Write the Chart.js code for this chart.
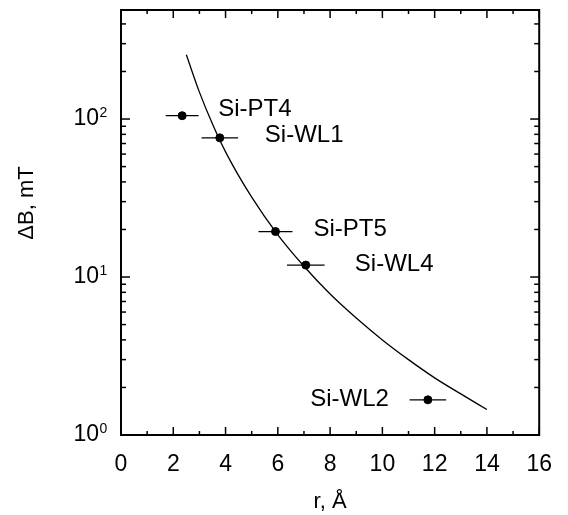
<!DOCTYPE html>
<html>
<head>
<meta charset="utf-8">
<script src="https://cdn.jsdelivr.net/npm/chart.js@4"></script>
<style>
  html, body { margin: 0; padding: 0; background: #fff; }
  canvas { display: block; }
</style>
</head>
<body>
<canvas id="chart" width="568" height="515"></canvas>
<script>
// ---- data ----
const sampleNames = ["Si-PT4", "Si-WL1", "Si-PT5", "Si-WL4", "Si-WL2"];
const rValues = [2.34, 3.78, 5.91, 7.07, 11.74];      // r, Å
const rErrors = [0.63, 0.70, 0.65, 0.72, 0.70];       // ± r
const dBValues = [105, 76, 19.4, 11.9, 1.67];         // ΔB, mT

// fitted curve
const fitR = [2.5, 3, 3.5, 4, 5, 6, 7, 8, 9, 10, 11, 12, 13, 14];
const fitDB = [255, 148, 93, 62, 32, 18.5, 11.7, 7.8, 5.5, 4.0, 3.0, 2.3, 1.82, 1.45];

// axis ticks
const xTickStep = 2;
const yMajorTicks = [1, 10, 100];
const yAllTicks = [1, 2, 3, 4, 5, 6, 7, 8, 9,
                   10, 20, 30, 40, 50, 60, 70, 80, 90,
                   100, 200, 300, 400];

// label placement (pixels, relative to each point)
const labelDx = [36, 45, 38, 49, -39];
const labelDy = [-6, -2, -2, -1, 0];

const FONT = "'Liberation Sans', Arial, sans-serif";

// =======================
// plugins
// =======================

const errorBars = {
  id: "errorBars",
  afterDatasetsDraw(chart) {
    const { ctx, scales: { x, y } } = chart;
    ctx.save();
    ctx.strokeStyle = "#000";
    ctx.lineWidth = 1.3;
    rValues.forEach((r, i) => {
      const py = y.getPixelForValue(dBValues[i]);
      ctx.beginPath();
      ctx.moveTo(x.getPixelForValue(r - rErrors[i]), py);
      ctx.lineTo(x.getPixelForValue(r + rErrors[i]), py);
      ctx.stroke();
    });
    ctx.restore();
  }
};

const frameAndTicks = {
  id: "frameAndTicks",
  afterDraw(chart) {
    const { ctx, chartArea: a, scales: { x, y } } = chart;
    ctx.save();
    ctx.strokeStyle = "#000";
    ctx.lineWidth = 1.5;

    const seg = (x0, y0, x1, y1) => {
      ctx.beginPath();
      ctx.moveTo(x0, y0);
      ctx.lineTo(x1, y1);
      ctx.stroke();
    };

    // x ticks, inward, bottom and top
    for (let v = x.min; v <= x.max; v++) {
      const px = x.getPixelForValue(v);
      const len = v % xTickStep === 0 ? 8 : 4;
      seg(px, a.bottom, px, a.bottom - len);
      seg(px, a.top, px, a.top + len);
    }

    // y ticks, inward, left and right
    y.ticks.forEach(t => {
      const py = y.getPixelForValue(t.value);
      const len = yMajorTicks.includes(t.value) ? 9 : 5;
      seg(a.left, py, a.left + len, py);
      seg(a.right, py, a.right - len, py);
    });

    // frame
    ctx.lineWidth = 2;
    ctx.strokeRect(a.left, a.top, a.right - a.left, a.bottom - a.top);

    // y tick labels 10^n
    ctx.fillStyle = "#000";
    yMajorTicks.forEach(v => {
      const py = y.getPixelForValue(v);
      const exp = String(Math.round(Math.log10(v)));
      ctx.font = "23px " + FONT;
      ctx.textAlign = "right";
      ctx.textBaseline = "middle";
      ctx.fillText("10", 99, py);
      ctx.font = "14px " + FONT;
      ctx.textAlign = "left";
      ctx.textBaseline = "alphabetic";
      ctx.fillText(exp, 99.5, py - 2);
    });

    // y axis title
    ctx.save();
    ctx.translate(27, 203);
    ctx.rotate(-Math.PI / 2);
    ctx.font = "22px " + FONT;
    ctx.textAlign = "center";
    ctx.textBaseline = "middle";
    ctx.fillText("ΔB, mT", 0, 0);
    ctx.restore();

    // sample labels
    ctx.font = "24px " + FONT;
    ctx.textBaseline = "middle";
    sampleNames.forEach((name, i) => {
      const px = x.getPixelForValue(rValues[i]) + labelDx[i];
      const py = y.getPixelForValue(dBValues[i]) + labelDy[i];
      ctx.textAlign = labelDx[i] < 0 ? "right" : "left";
      ctx.fillText(name, px, py);
    });

    ctx.restore();
  }
};

// =======================
// chart
// =======================

new Chart(document.getElementById("chart"), {
  type: "scatter",
  data: {
    datasets: [
      {
        label: "fit",
        data: fitR.map((r, i) => ({ x: r, y: fitDB[i] })),
        showLine: true,
        pointRadius: 0,
        borderColor: "#000",
        borderWidth: 1.3,
        cubicInterpolationMode: "monotone"
      },
      {
        label: "samples",
        data: rValues.map((r, i) => ({ x: r, y: dBValues[i] })),
        pointRadius: 4,
        backgroundColor: "#000",
        borderColor: "#000"
      }
    ]
  },
  options: {
    responsive: false,
    animation: false,
    events: [],
    layout: { padding: { top: 10, right: 23, left: 0, bottom: 0 } },
    plugins: {
      legend: { display: false },
      tooltip: { enabled: false }
    },
    scales: {
      x: {
        type: "linear",
        min: 0,
        max: 16,
        grid: { display: false, drawTicks: false },
        border: { display: false },
        ticks: {
          stepSize: xTickStep,
          color: "#000",
          padding: 16,
          maxRotation: 0,
          font: { family: FONT, size: 23 }
        },
        title: {
          display: true,
          text: "r, Å",
          color: "#000",
          padding: { top: 0, bottom: 0 },
          font: { family: FONT, size: 22 }
        },
        afterFit: s => { s.height = 80; }
      },
      y: {
        type: "logarithmic",
        min: 1,
        max: 490,
        grid: { display: false, drawTicks: false },
        border: { display: false },
        ticks: { display: false },
        afterBuildTicks: s => { s.ticks = yAllTicks.map(v => ({ value: v })); },
        afterFit: s => { s.width = 121; }
      }
    }
  },
  plugins: [errorBars, frameAndTicks]
});
</script>
</body>
</html>
